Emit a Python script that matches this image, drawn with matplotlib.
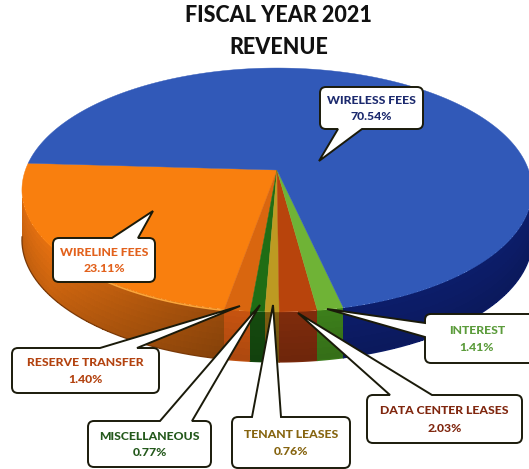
import numpy as np
import matplotlib
matplotlib.use('Agg')
import matplotlib.pyplot as plt
from matplotlib.path import Path
from matplotlib.patches import PathPatch
from matplotlib.colors import to_rgb

# slices, in the order they run from the left edge round the front
names = ['WIRELINE FEES', 'RESERVE TRANSFER', 'MISCELLANEOUS', 'TENANT LEASES',
         'DATA CENTER LEASES', 'INTEREST', 'WIRELESS FEES']
shares = [23.11, 1.40, 0.77, 0.76, 2.03, 1.41, 70.54]
top_colors = ['#f97f0e', '#d9660f', '#1f6d14', '#bd9a22', '#b8440c', '#6fb336', '#3159b8']
side_colors = ['#dc6c10', '#bf5010', '#14480e', '#7a5a10', '#7a2a0c', '#3a7a1a', '#0c1c66']
text_colors = ['#e2611c', '#b3420f', '#24591c', '#86640f', '#80270f', '#5c9c3c', '#1c2a6e']

# pie geometry, image pixels
cx, cy = 277, 170
a, b, k = 251.6, 118.7, -0.164
depth = 50
start = 183.3

# box (x0, y0, x1, y1), side of tail, tail base (from, to), tail tip
callouts = {
    'WIRELESS FEES': ((320, 87, 423, 129), 'bottom', (338, 362), (319, 161)),
    'WIRELINE FEES': ((53, 238, 155, 282), 'top', (112, 138), (153, 211)),
    'RESERVE TRANSFER': ((12, 348, 159, 393), 'top', (100, 137), (240, 306)),
    'MISCELLANEOUS': ((88, 421, 211, 467), 'top', (160, 192), (260, 305)),
    'TENANT LEASES': ((232, 417, 350, 468), 'top', (252, 281), (273, 305)),
    'DATA CENTER LEASES': ((367, 395, 522, 443), 'top', (390, 432), (298, 313)),
    'INTEREST': ((425, 314, 535, 363), 'left', (323, 337), (327, 309)),
}


def rim(theta):
    t = np.radians(theta)
    d = 1 + k * np.sin(t)
    return cx + a * np.cos(t) / d, cy + b * np.sin(t) / d


def callout_path(box, side, base, tip, r=6):
    x0, y0, x1, y1 = box
    v = [(x0 + r, y0)]
    c = [Path.MOVETO]
    if side == 'top':
        v += [(base[0], y0), tip, (base[1], y0)]
        c += [Path.LINETO] * 3
    v += [(x1 - r, y0), (x1, y0), (x1, y0 + r), (x1, y1 - r), (x1, y1), (x1 - r, y1)]
    c += [Path.LINETO, Path.CURVE3, Path.CURVE3, Path.LINETO, Path.CURVE3, Path.CURVE3]
    if side == 'bottom':
        v += [(base[1], y1), tip, (base[0], y1)]
        c += [Path.LINETO] * 3
    v += [(x0 + r, y1), (x0, y1), (x0, y1 - r)]
    c += [Path.LINETO, Path.CURVE3, Path.CURVE3]
    if side == 'left':
        v += [(x0, base[1]), tip, (x0, base[0])]
        c += [Path.LINETO] * 3
    v += [(x0, y0 + r), (x0, y0), (x0 + r, y0), (x0 + r, y0)]
    c += [Path.LINETO, Path.CURVE3, Path.CURVE3, Path.CLOSEPOLY]
    return Path(v, c)


plt.rcParams['font.family'] = ['Lato', 'DejaVu Sans']
fig = plt.figure(figsize=(5.29, 4.69), dpi=100)
ax = fig.add_axes([0, 0, 1, 1])
ax.set_xlim(0, 529)
ax.set_ylim(469, 0)
ax.axis('off')

# angle limits of each slice
sweeps = np.array(shares) / sum(shares) * 360
edges = start - np.concatenate([[0], np.cumsum(sweeps)])

# side wall first, visible only where the rim faces the viewer
fr = np.linspace(0, 1, 9)
for i in range(len(names)):
    hi, lo = min(edges[i], 172), max(edges[i + 1], 8)
    if hi <= lo:
        continue
    th = np.linspace(hi, lo, int((hi - lo) * 3) + 2)
    xs, ys = rim(th)
    X = np.tile(xs, (len(fr), 1))
    Y = ys + depth * fr[:, None]
    mid = (th[:-1] + th[1:]) / 2
    if names[i] == 'WIRELINE FEES':
        # brightest round the left of the front, brown next to the small slices
        ang = np.where(mid > 145, 1 - 0.06 * (mid - 145) / 25, 1 - 0.34 * (145 - mid) / 45)
    else:
        ang = np.ones_like(mid)
    vert = 1.04 - 0.14 * (fr[:-1] + fr[1:]) / 2
    rgb = np.array(to_rgb(side_colors[i]))[None, None, :] * (vert[:, None] * ang[None, :])[:, :, None]
    ax.pcolormesh(X, Y, np.clip(rgb, 0, 1), shading='flat', antialiased=False, linewidth=0)
    edge = '#7a3a08' if names[i] == 'WIRELINE FEES' else side_colors[i]
    ax.plot(xs, ys + depth, color=edge, lw=0.9)

# top face
for i in range(len(names)):
    th = np.linspace(edges[i], edges[i + 1], max(int(sweeps[i] * 2), 4))
    xs, ys = rim(th)
    ax.fill(np.r_[cx, xs], np.r_[cy, ys], color=top_colors[i], lw=0.3)

# light rim along the front of the orange slice
th = np.linspace(edges[1], 135, 40)
xs, ys = rim(th)
ax.plot(xs, ys + 1, color='#fba53a', lw=1.2, solid_capstyle='round')

# title
ax.text(278, 16, 'FISCAL YEAR 2021', ha='center', va='center', fontsize=15.5, fontweight=900, color='#111111')
ax.text(279, 47, 'REVENUE', ha='center', va='center', fontsize=15.5, fontweight=900, color='#111111')

# callouts
for i, name in enumerate(names):
    box, side, tbase, tip = callouts[name]
    ax.add_patch(PathPatch(callout_path(box, side, tbase, tip), fc='white', ec='#1a1a0a', lw=1.4, zorder=5))
    xc = 477 if name == 'INTEREST' else (box[0] + box[2]) / 2
    yc = (box[1] + box[3]) / 2
    ax.text(xc, yc - 8, name, ha='center', va='center', fontsize=8.8, fontweight=900,
            color=text_colors[i], zorder=6)
    ax.text(xc, yc + 9, f'{shares[i]:.2f}%', ha='center', va='center', fontsize=8.8, fontweight=900,
            color=text_colors[i], zorder=6)

fig.savefig('out.png', dpi=100, facecolor='white')
